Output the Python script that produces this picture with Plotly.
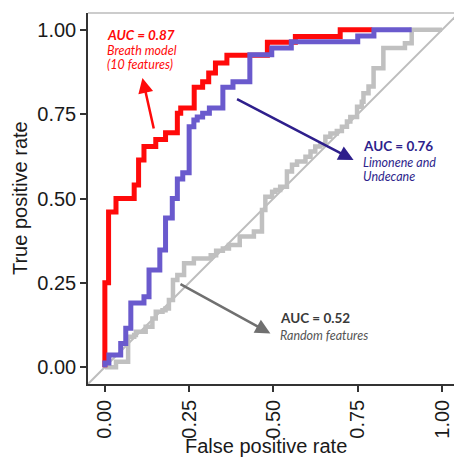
import plotly.graph_objects as go

# ROC curves (false positive rate, true positive rate)
red_fpr = [0, 0, 0.011, 0.033, 0.087, 0.10, 0.116, 0.151, 0.18, 0.215, 0.225, 0.265,
           0.29, 0.308, 0.328, 0.362, 0.482, 0.565, 0.698, 0.793]
red_tpr = [0, 0.25, 0.46, 0.50, 0.54, 0.614, 0.654, 0.675, 0.695, 0.753, 0.768, 0.83,
           0.846, 0.872, 0.902, 0.925, 0.963, 0.98, 1.0, 1.0]

blue_fpr = [0, 0, 0.012, 0.047, 0.062, 0.077, 0.116, 0.131, 0.163, 0.18, 0.20, 0.215,
            0.231, 0.25, 0.264, 0.274, 0.29, 0.31, 0.35, 0.38, 0.43, 0.495, 0.553,
            0.75, 0.798, 0.91]
blue_tpr = [0, 0.012, 0.036, 0.07, 0.115, 0.19, 0.209, 0.288, 0.347, 0.442, 0.50, 0.558,
            0.576, 0.713, 0.733, 0.742, 0.753, 0.768, 0.83, 0.846, 0.926, 0.946, 0.965,
            0.982, 1.0, 1.0]

gray_fpr = [0, 0.018, 0.033, 0.069, 0.087, 0.092, 0.121, 0.141, 0.151, 0.171, 0.18, 0.19,
            0.202, 0.215, 0.235, 0.264, 0.314, 0.33, 0.35, 0.368, 0.40, 0.442, 0.466,
            0.476, 0.496, 0.506, 0.52, 0.54, 0.555, 0.57, 0.595, 0.61, 0.624, 0.639,
            0.654, 0.669, 0.688, 0.703, 0.718, 0.728, 0.748, 0.762, 0.767, 0.782, 0.797,
            0.826, 0.89, 0.91, 1.0]
gray_tpr = [0, 0, 0.016, 0.09, 0.095, 0.105, 0.12, 0.144, 0.164, 0.169, 0.174, 0.199,
            0.258, 0.273, 0.308, 0.322, 0.332, 0.345, 0.352, 0.362, 0.387, 0.402, 0.466,
            0.505, 0.52, 0.525, 0.535, 0.58, 0.60, 0.61, 0.624, 0.639, 0.654, 0.659,
            0.683, 0.693, 0.70, 0.713, 0.728, 0.742, 0.772, 0.787, 0.812, 0.832, 0.886,
            0.946, 0.96, 1.0, 1.0]

chance_line = [-0.1, 1.1]

tick_vals = [0, 0.25, 0.5, 0.75, 1.0]
tick_text = ["0.00", "0.25", "0.50", "0.75", "1.00"]

# label lines: (text, bold, italic)
red_label = [("AUC = 0.87", True, True), ("Breath model", False, True), ("(10 features)", False, True)]
blue_label = [("AUC = 0.76", True, False), ("Limonene and", False, True), ("Undecane", False, True)]
gray_label = [("AUC = 0.52", True, False), ("Random features", False, True)]

RED = "#FF0A0A"
BLUE = "#6A5ACD"
GRAY = "#C0C0C0"
NAVY = "#2E1F8C"

fig = go.Figure()
fig.add_trace(go.Scatter(x=chance_line, y=chance_line, mode="lines",
                         line=dict(color="#BDBDBD", width=2), hoverinfo="skip"))
fig.add_trace(go.Scatter(x=gray_fpr, y=gray_tpr, mode="lines",
                         line=dict(color=GRAY, width=4.5, shape="hv")))
fig.add_trace(go.Scatter(x=red_fpr, y=red_tpr, mode="lines",
                         line=dict(color=RED, width=5, shape="hv")))
fig.add_trace(go.Scatter(x=blue_fpr, y=blue_tpr, mode="lines",
                         line=dict(color=BLUE, width=5, shape="hv")))

ann_font = "Lato, Open Sans, sans-serif"
annotations = []


def add_label(lines, x, ys, colors):
    for (txt, bold, ital), y, col in zip(lines, ys, colors):
        t = txt
        if ital:
            t = "<i>%s</i>" % t
        if bold:
            t = "<b>%s</b>" % t
        annotations.append(dict(x=x, y=y, xref="x", yref="y", text=t, showarrow=False,
                                xanchor="left", yanchor="middle",
                                font=dict(family=ann_font, size=13.5 if bold else 12.5,
                                          color=col)))


add_label(red_label, 0.0, [0.985, 0.940, 0.896], [RED, RED, RED])
add_label(blue_label, 0.76, [0.656, 0.608, 0.566], [NAVY, NAVY, NAVY])
add_label(gray_label, 0.514, [0.145, 0.095], ["#3a3a3a", "#555555"])

annotations += [
    dict(x=0.1115, y=0.8576, ax=0.146, ay=0.7033, xref="x", yref="y", axref="x", ayref="y",
         text="", showarrow=True, arrowhead=2, arrowsize=1.2, arrowwidth=2.5, arrowcolor=RED),
    dict(x=0.7376, y=0.6142, ax=0.3876, ay=0.797, xref="x", yref="y", axref="x", ayref="y",
         text="", showarrow=True, arrowhead=2, arrowsize=1.2, arrowwidth=2.5, arrowcolor=NAVY),
    dict(x=0.491, y=0.10, ax=0.2198, ay=0.2484, xref="x", yref="y", axref="x", ayref="y",
         text="", showarrow=True, arrowhead=2, arrowsize=1.2, arrowwidth=2.5, arrowcolor="#707070"),
    dict(x=0.485, y=-0.166, xref="paper", yref="paper", text="False positive rate",
         showarrow=False, xanchor="center", yanchor="middle",
         font=dict(family="Liberation Sans, Arial", size=20, color="#1a1a1a")),
    dict(x=-0.186, y=0.501, xref="paper", yref="paper", text="True positive rate",
         showarrow=False, xanchor="center", yanchor="middle", textangle=-90,
         font=dict(family="Liberation Sans, Arial", size=20, color="#1a1a1a")),
]

fig.update_layout(
    width=454, height=457,
    margin=dict(l=88, r=0, t=13, b=73),
    paper_bgcolor="white", plot_bgcolor="white",
    showlegend=False,
    annotations=annotations,
    shapes=[dict(type="line", xref="paper", yref="paper", x0=0, x1=1, y0=1, y1=1,
                 line=dict(color="#9a9a9a", width=1.2))],
    font=dict(family="Liberation Sans, Arial", size=20, color="#1a1a1a"),
)
fig.update_xaxes(range=[-0.05, 1.0355], tickvals=tick_vals, ticktext=tick_text,
                 tickangle=-90, ticks="outside", ticklen=6, tickwidth=1.5, tickcolor="#333333",
                 showline=True, linecolor="#333333", linewidth=1.5, showgrid=False,
                 zeroline=False, tickfont=dict(size=20, color="#1a1a1a"))
fig.update_yaxes(range=[-0.05, 1.05], tickvals=tick_vals, ticktext=tick_text,
                 ticks="outside", ticklen=6, tickwidth=1.5, tickcolor="#333333",
                 showline=True, linecolor="#333333", linewidth=1.5, showgrid=False,
                 zeroline=False, tickfont=dict(size=20, color="#1a1a1a"))

fig.write_html("out.html")
